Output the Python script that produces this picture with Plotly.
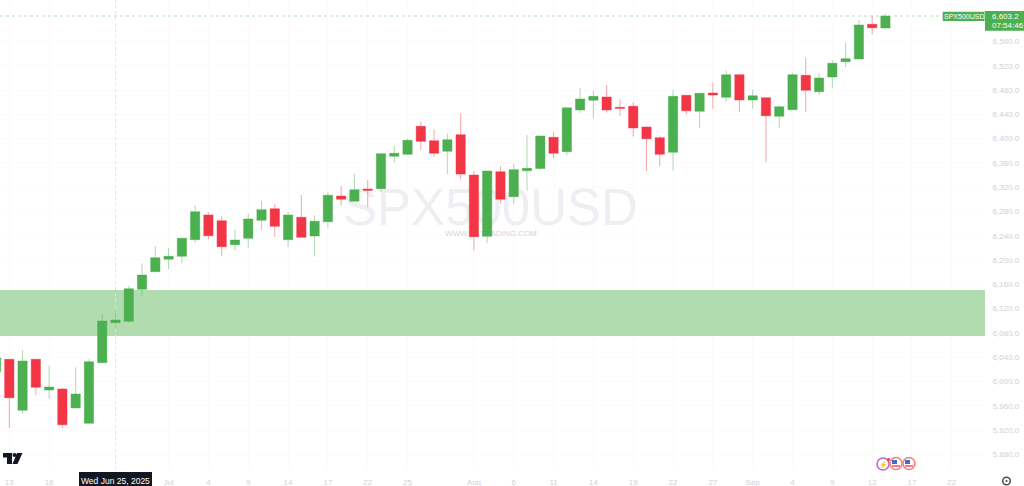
import plotly.graph_objects as go

W, H = 1024, 486
PLOT_R, PLOT_B = 985, 470

session = list(range(-1, 67))  # trading sessions; 0 = Fri Jun 13, 2025
opens = [6016.2,6036.6,5952.6,6036.6,5986,5987.7,5956.4,5931.2,6031,6096.9,6099.2,6151.9,6180.9,6201.3,6206.2,6233.6,6274.3,6264.9,6225.3,6235.9,6265.5,6284.6,6233.6,6270.5,6239.7,6263.2,6305.5,6296.8,6317,6317.6,6370.9,6374.2,6420.3,6396.6,6379.2,6406.5,6340.1,6239.2,6345.6,6304.4,6347.2,6350.8,6402.2,6378.5,6447.2,6463.2,6468.6,6451.6,6453.3,6419.2,6401.6,6377.5,6471.4,6445,6475.2,6468.1,6505.3,6463.6,6467.4,6436.8,6447.7,6504.3,6477.3,6501.5,6526.7,6531.2,6588.3,6582.2]
highs = [6042,6037,6051.9,6037,6026,5989.3,6023.4,6037,6110.7,6116.1,6157.3,6194.7,6223.2,6219.9,6236.9,6290.2,6278.7,6272.1,6250.7,6277,6297.3,6292.4,6279.2,6307.2,6273.8,6311.7,6322.5,6341.8,6331.9,6376,6387.9,6400.6,6427.9,6415.4,6408.8,6441.8,6346.7,6347,6354.5,6358.3,6406,6405,6410.5,6451,6483.4,6479,6488.4,6464.8,6460.4,6420,6403.9,6480.6,6472,6475,6492.8,6511.9,6506,6480.6,6468,6455.4,6508.6,6533.3,6507.6,6529,6558.7,6595.4,6602,6604.8]
lows = [6010,5923.9,5947,5977.3,5971.2,5923.4,5956,5931,6031,6089.3,6096.9,6140.8,6180.9,6185.3,6194.7,6228.6,6234.2,6207.2,6215.5,6220.4,6249.5,6238.5,6222,6237,6206.2,6253.3,6289.6,6296.8,6287.4,6311.7,6361,6372.6,6381.3,6370.3,6341.3,6333.5,6215.5,6227.6,6293.5,6291.9,6314.3,6348.4,6368.1,6372.2,6442.2,6433.5,6442.7,6437.3,6403.2,6346.7,6355,6347.9,6440.1,6418,6449.3,6460.4,6443.9,6449.3,6361,6418,6447,6443.9,6472.4,6482.9,6517.5,6531,6571.9,6580.6]
closes = [6039.2,5973.3,6033.8,5990.5,5991,5928.9,5979.4,6032.6,6099.7,6101.3,6152.9,6175.4,6203.9,6206.2,6235.9,6279.7,6240.2,6222,6233,6267.7,6283,6255.6,6274.3,6237.5,6263.9,6306.7,6300.1,6315.9,6314.9,6375.2,6375.9,6397.3,6395.6,6375.9,6398.3,6341.8,6238.5,6346.7,6300.1,6348.9,6351.2,6404.4,6375.9,6450.8,6465.3,6469.7,6447.2,6450,6417.5,6399.9,6374.2,6469.7,6446,6474.7,6471.9,6505.3,6463.6,6470.7,6437.8,6452.6,6505.3,6479.6,6499.9,6524.1,6531.7,6587.2,6582.7,6602]

x_tick_idx = [0,3,12,15,18,21,24,27,30,35,38,41,44,47,50,53,56,59,62,65,68,71]
x_tick_txt = ["13","18","Jul","4","9","14","17","22","25","Aug","6","11","14","19","22","27","Sep","4","9","12","17","22"]
y_ticks = [5880,5920,5960,6000,6040,6080,6120,6160,6200,6240,6280,6320,6360,6400,6440,6480,6520,6560]
zone = [6075, 6150.7]
last_line = 6602
crosshair_idx = 8
watermark = "SPX500USD"
watermark_sub = "WWW.FXTRADING.COM"
X_RANGE = [-0.70, 73.5]
Y_RANGE = [5854.3, 6628.35]

GREEN, RED = "#4caf50", "#f23645"
FONT = "Liberation Sans"


def px(x):
    return x / PLOT_R


def py(y):
    return 1 - y / PLOT_B


def ix(x):
    return X_RANGE[0] + px(x) * (X_RANGE[1] - X_RANGE[0])


def iy(y):
    return Y_RANGE[0] + py(y) * (Y_RANGE[1] - Y_RANGE[0])


def rect(x0, y0, x1, y1, **kw):
    return dict(type="rect", xref="paper", yref="paper", x0=px(x0), x1=px(x1),
                y0=py(y1), y1=py(y0), **kw)


def circle(cx, cy, r, **kw):
    return dict(type="circle", xref="paper", yref="paper", x0=px(cx - r), x1=px(cx + r),
                y0=py(cy + r), y1=py(cy - r), **kw)


def poly(pts, **kw):
    d = "M" + " L".join(f"{px(a):.5f},{py(b):.5f}" for a, b in pts) + " Z"
    return dict(type="path", xref="paper", yref="paper", path=d, **kw)


def label(x, y, text, size=8, color="#ffffff", **kw):
    return dict(xref="paper", yref="paper", x=px(x), y=py(y), text=text, showarrow=False,
                xanchor=kw.pop("xanchor", "center"), yanchor="middle",
                font=dict(family=FONT, size=size, color=color), borderpad=0, **kw)


fig = go.Figure(go.Candlestick(
    x=session, open=opens, high=highs, low=lows, close=closes,
    increasing=dict(line=dict(color="rgba(76,175,80,0.45)", width=1), fillcolor=GREEN),
    decreasing=dict(line=dict(color="rgba(242,54,69,0.45)", width=1), fillcolor=RED),
    whiskerwidth=0, hoverinfo="skip",
))

shapes = [
    dict(type="rect", xref="x", yref="y", x0=X_RANGE[0], x1=X_RANGE[1], y0=zone[0], y1=zone[1],
         fillcolor="#b0dcb0", line_width=0, layer="between"),
    dict(type="rect", xref="x", yref="y", x0=ix(345), x1=ix(636), y0=iy(222), y1=iy(182),
         line_width=0, fillcolor="rgba(0,0,0,0)", layer="between",
         label=dict(text=watermark, textposition="middle center",
                    font=dict(family=FONT, size=51, color="#eeeff2"))),
    dict(type="rect", xref="x", yref="y", x0=ix(445), x1=ix(537), y0=iy(237), y1=iy(227),
         line_width=0, fillcolor="rgba(0,0,0,0)", layer="between",
         label=dict(text=watermark_sub, textposition="middle center",
                    font=dict(family=FONT, size=8, color="#d3d5db"))),
    dict(type="line", xref="x", yref="y", x0=X_RANGE[0], x1=X_RANGE[1], y0=last_line, y1=last_line,
         line=dict(color="#b7e0b9", width=1, dash="dot"), layer="between"),
    dict(type="line", xref="x", yref="y", x0=crosshair_idx, x1=crosshair_idx,
         y0=Y_RANGE[0], y1=Y_RANGE[1],
         line=dict(color="#e2e3e8", width=1, dash="3px,3px"), layer="between"),
    # date badge and price badges
    rect(79, 472, 152, 487, fillcolor="#131722", line_width=0),
    rect(985, 11, 1024, 30.7, fillcolor=GREEN, line_width=0),
    rect(942.7, 11.7, 984.5, 21, fillcolor=GREEN, line_width=0),
    # TradingView logo
    rect(3, 453, 12, 457.5, fillcolor="#131722", line_width=0),
    rect(7, 453, 12, 464, fillcolor="#131722", line_width=0),
    circle(14.5, 455, 2, fillcolor="#131722", line_width=0),
    poly([(17, 453), (22.5, 453), (17.5, 464), (12.5, 464)], fillcolor="#131722", line_width=0),
    # event markers
    circle(883, 464, 6, fillcolor="#ffffff", line=dict(color="#ba68c8", width=1.5)),
    circle(896, 463.5, 6, fillcolor="#ffffff", line=dict(color="#f77c80", width=1.5)),
    rect(892, 460, 897, 464, fillcolor="#3f6fc4", line_width=0),
    rect(892, 465, 900, 467, fillcolor="#f77c80", line_width=0),
    circle(909, 463.5, 6, fillcolor="#ffffff", line=dict(color="#f77c80", width=1.5)),
    rect(905, 460, 910, 464, fillcolor="#3f6fc4", line_width=0),
    rect(905, 465, 913, 467, fillcolor="#f77c80", line_width=0),
    circle(888.5, 459.5, 1.5, fillcolor="#f23645", line_width=0),
    # settings icon
    circle(1006.5, 481, 3.8, fillcolor="#ffffff", line=dict(color="#4a4d57", width=1.5)),
    circle(1006.5, 481, 1.1, fillcolor="#4a4d57", line_width=0),
]

annotations = [
    label(115.5, 481, "Wed Jun 25, 2025", size=8.5),
    label(963.5, 16.5, "SPX500USD", size=7),
    label(990.5, 16, "6,603.2", size=8, xanchor="left"),
    label(990.5, 25, "07:54:46", size=8, xanchor="left"),
    label(883, 464, "⚡", size=7, color="#ab47bc"),
]

fig.update_layout(
    width=W, height=H, autosize=False,
    margin=dict(l=0, r=W - PLOT_R, t=0, b=H - PLOT_B, pad=0),
    paper_bgcolor="#ffffff", plot_bgcolor="#ffffff",
    showlegend=False, boxgap=0.3, boxgroupgap=0,
    font=dict(family=FONT, size=8, color="#cfd1d8"),
    shapes=shapes, annotations=annotations,
    xaxis=dict(range=X_RANGE, rangeslider=dict(visible=False), tickmode="array",
               tickvals=x_tick_idx, ticktext=x_tick_txt, showgrid=True, gridcolor="#fbfbfc",
               gridwidth=1, zeroline=False, showline=False, ticks="outside", ticklen=4,
               tickcolor="rgba(0,0,0,0)",
               tickfont=dict(family=FONT, size=8, color="#cfd1d8"), fixedrange=True),
    yaxis=dict(range=Y_RANGE, side="right", tickmode="array", tickvals=y_ticks,
               tickformat=",.1f", showgrid=True, gridcolor="#fbfbfc", gridwidth=1,
               zeroline=False, showline=False, ticks="outside", ticklen=5,
               tickcolor="rgba(0,0,0,0)",
               tickfont=dict(family=FONT, size=8, color="#cfd1d8"), fixedrange=True),
)

fig.write_html("out.html", config=dict(displayModeBar=False),
               post_script="document.body.style.margin='0';document.documentElement.style.overflow='hidden';")
